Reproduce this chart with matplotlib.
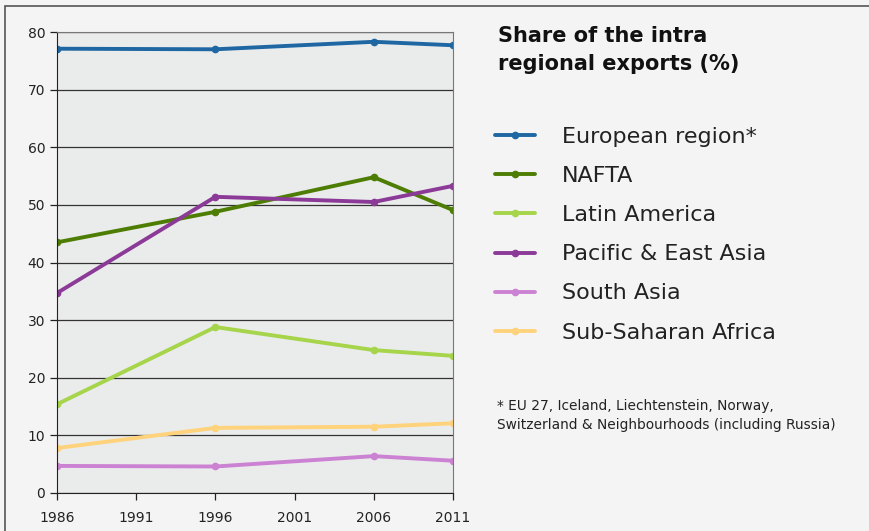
import matplotlib.pyplot as plt
from matplotlib.patches import Rectangle

years = [1986, 1996, 2006, 2011]
regions = ["European region*", "NAFTA", "Latin America", "Pacific & East Asia",
           "South Asia", "Sub-Saharan Africa"]
european = [77.1, 77.0, 78.3, 77.7]
nafta = [43.5, 48.8, 54.8, 49.1]
latin = [15.4, 28.8, 24.8, 23.8]
pacific = [34.7, 51.4, 50.5, 53.3]
south_asia = [4.7, 4.6, 6.4, 5.6]
ssa = [7.8, 11.3, 11.5, 12.1]
colors = ["#1f67a3", "#4e7d04", "#a6d44a", "#8c3a97", "#cc82d2", "#ffd27c"]
x_ticks = [1986, 1991, 1996, 2001, 2006, 2011]

series = [european, nafta, latin, pacific, south_asia, ssa]

fig = plt.figure(figsize=(8.7, 5.31), dpi=100)
fig.patch.set_facecolor("#f4f4f4")
# outer frame (right and bottom edges fall outside the picture)
fig.patches.append(Rectangle((5 / 870, -0.05), 1.0, 1 - 6 / 531 + 0.05,
                             transform=fig.transFigure, fill=False,
                             edgecolor="#555555", linewidth=1.2))

ax = fig.add_axes([57 / 870, 1 - 493 / 531, 396 / 870, 461 / 531])
ax.set_facecolor("#eaeceb")

for name, vals, c in zip(regions, series, colors):
    ax.plot(years, vals, color=c, linewidth=2.8, marker="o", markersize=4.5,
            label=name, solid_capstyle="round")

ax.set_xlim(1986, 2011)
ax.set_ylim(0, 80)
ax.set_xticks(x_ticks)
ax.set_yticks(range(0, 81, 10))
ax.yaxis.grid(True, color="#333333", linewidth=0.9)
ax.set_axisbelow(True)
ax.tick_params(labelsize=10, colors="#222222", length=5, width=0.9)
ax.tick_params(axis="x", pad=8)
for s in ["top", "right"]:
    ax.spines[s].set_color("#777777")
for s in ["left", "bottom"]:
    ax.spines[s].set_color("#222222")

fig.text(498 / 870, 1 - 26 / 531, "Share of the intra\nregional exports (%)",
         fontsize=15, fontweight="bold", va="top", ha="left", color="#111111",
         linespacing=1.5)

handles, labels = ax.get_legend_handles_labels()
leg = fig.legend(handles, labels, loc="upper left",
                 bbox_to_anchor=(475 / 870, 1 - 107 / 531), frameon=False,
                 fontsize=16, handlelength=1.8, handletextpad=1.2,
                 labelspacing=0.86, numpoints=1, markerscale=1.0)
for t in leg.get_texts():
    t.set_color("#222222")

fig.text(497 / 870, 1 - 399 / 531,
         "* EU 27, Iceland, Liechtenstein, Norway,\nSwitzerland & Neighbourhoods (including Russia)",
         fontsize=9.9, va="top", ha="left", color="#222222", linespacing=1.45,
         family="DejaVu Sans")

fig.savefig("out.png", dpi=100, facecolor=fig.get_facecolor())
